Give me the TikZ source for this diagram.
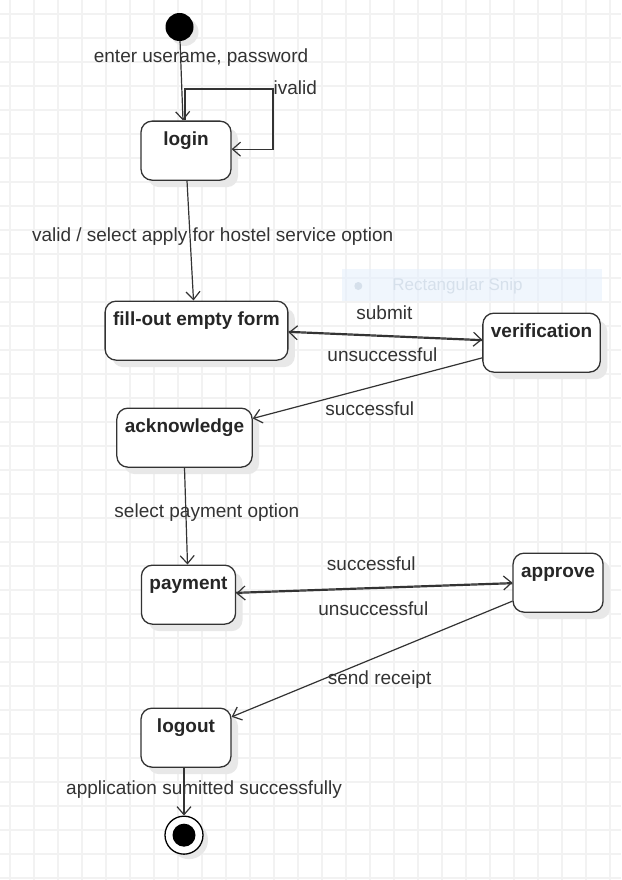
\documentclass[tikz,border=0pt]{standalone}
\usepackage{fontspec}
\setmainfont{Liberation Sans}
\usetikzlibrary{positioning,shadows,arrows.meta}

\definecolor{inkgray}{HTML}{333333}
\definecolor{gridgray}{HTML}{F2F2F2}
\definecolor{snipblue}{HTML}{E6F0FC}
\definecolor{sniptext}{HTML}{D6E0EB}

\begin{document}
\begin{tikzpicture}[x=1pt, y=-1pt,
    >={Straight Barb[length=8pt,width=14pt]},
    state/.style={rectangle, rounded corners=11pt, draw=inkgray, line width=1.3pt, fill=white,
    text=black!85, font=\fontsize{19}{22}\selectfont\bfseries, minimum width=90pt,
    inner xsep=8pt, inner ysep=0pt, text height=24.5pt, text depth=34.5pt,
    drop shadow={shadow xshift=7pt, shadow yshift=-7pt, fill=black!9, opacity=1}},
    startdot/.style={circle, fill=black, minimum size=28pt, inner sep=0pt,
    drop shadow={shadow xshift=5pt, shadow yshift=-5pt, fill=black!9, opacity=1}},
    enddot/.style={circle, draw=black, line width=1.3pt, fill=white, minimum size=38pt, inner sep=0pt,
    path picture={\fill[black] (path picture bounding box.center) circle (11.5pt);},
    drop shadow={shadow xshift=5pt, shadow yshift=-5pt, fill=black!9, opacity=1}},
    trans/.style={->, draw=inkgray, line width=1.2pt},
    lbl/.style={text=inkgray, font=\fontsize{19}{22}\selectfont, inner sep=0pt},
    gridline/.style={draw=gridgray, line width=1.2pt}
]
  \useasboundingbox (0,0) rectangle (621,880);
  \fill[white] (0,0) rectangle (621,880);
  % background grid
  \foreach \gx in {10,34,...,610} \draw[gridline] (\gx,0) -- (\gx,880);
  \foreach \gy in {14,38,...,878} \draw[gridline] (0,\gy) -- (621,\gy);

  % snipping tool leftover
  \node[fill=snipblue, fill opacity=0.6, minimum width=260pt, minimum height=32pt, inner sep=0pt] (snip) at (471.7,285.3) {};
  \node[circle, fill=sniptext, minimum size=8pt, inner sep=0pt] (snipdot) at (358.3,286) {};
  \node[text=sniptext, font=\fontsize{17}{20}\selectfont, inner sep=0pt] (sniptxt) at (457.5,286) {Rectangular Snip};

  \node[startdot] (init) at (179.5,27) {};
  \node[state, below=79.3pt of init, xshift=6.5pt] (login) {login};
  \node[state, below=119.7pt of login, xshift=10.5pt] (fillout) {fill-out empty form};
  \node[state, right=193.7pt of fillout, yshift=-12pt] (verif) {verification};
  \node[state, below=46.7pt of fillout, xshift=-12pt] (ack) {acknowledge};
  \node[state, below=96.7pt of ack, xshift=4pt] (payment) {payment};
  \node[state, right=276.2pt of payment, yshift=12pt] (approve) {approve};
  \node[state, below=82.7pt of payment, xshift=-2.5pt] (logout) {logout};
  \node[enddot, below=47.7pt of logout, xshift=-2pt] (final) {};

  \coordinate (loopcorner) at (273,89);

  \draw[trans] (init) -- ([xshift=-3pt]login.north) node[lbl, pos=0.21, xshift=20.4pt] {enter userame, password};
  \draw[trans] ([xshift=-1pt]login.north) |- (loopcorner) node[lbl, anchor=west, yshift=1pt] {ivalid} |- ([yshift=1.5pt]login.east);
  \draw[trans] ([xshift=1pt]login.south) -- ([xshift=-3pt]fillout.north) node[lbl, pos=0.467, xshift=22.6pt] {valid / select apply for hostel service option};
  \draw[trans] ([yshift=-0.7pt]fillout.east) -- ([yshift=3pt]verif.west) node[lbl, midway, xshift=-1pt, yshift=22.9pt] {submit};
  \draw[trans] ([yshift=2pt]verif.west) -- ([yshift=-1.7pt]fillout.east) node[lbl, midway, xshift=-3pt, yshift=-18.7pt] {unsuccessful};
  \draw[trans] ([yshift=-15.2pt]verif.west) -- ([yshift=19.2pt]ack.east) node[lbl, pos=0.49, yshift=-20.8pt] {successful};
  \draw[trans] (ack.south) -- ([xshift=-1pt]payment.north) node[lbl, pos=0.467, xshift=21pt] {select payment option};
  \draw[trans] ([yshift=2.3pt]payment.east) -- (approve.west) node[lbl, midway, xshift=-3pt, yshift=23.4pt] {successful};
  \draw[trans] ([yshift=-1pt]approve.west) -- ([yshift=1.3pt]payment.east) node[lbl, midway, xshift=-1pt, yshift=-20.6pt] {unsuccessful};
  \draw[trans] ([yshift=-18.5pt]approve.west) -- ([yshift=20.8pt]logout.east) node[lbl, pos=0.473, yshift=-23.8pt] {send receipt};
  \draw[trans] ([xshift=-2pt]logout.south) -- (final) node[lbl, pos=0.46, xshift=20pt] {application sumitted successfully};
\end{tikzpicture}
\end{document}
